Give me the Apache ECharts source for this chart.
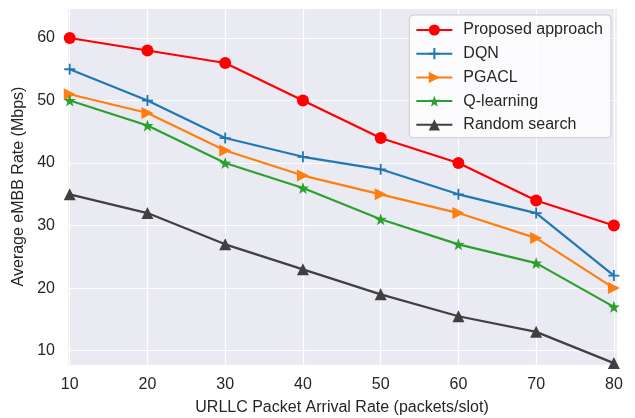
<!DOCTYPE html>
<html><head><meta charset="utf-8">
<script src="https://cdn.jsdelivr.net/npm/echarts@6/dist/echarts.min.js"></script>
<style>html,body{margin:0;padding:0;background:#fff}#c{width:635px;height:418px}</style>
</head><body><div id="c"></div>
<script>
const xValues = [10, 20, 30, 40, 50, 60, 70, 80];
const proposed = [60, 58, 56, 50, 44, 40, 34, 30];
const dqn = [55, 50, 44, 41, 39, 35, 32, 22];
const pgacl = [51, 48, 42, 38, 35, 32, 28, 20];
const qlearning = [50, 46, 40, 36, 31, 27, 24, 17];
const randomSearch = [35, 32, 27, 23, 19, 15.5, 13, 8];
const seriesNames = ['Proposed approach', 'DQN', 'PGACL', 'Q-learning', 'Random search'];

const FONT = 'Liberation Sans, Arial, sans-serif';
const TXT = '#262626';
const FS = 16;
const STAR = 'path://M0,-10L2.35,-3.24L9.51,-3.09L3.8,1.24L5.88,8.09L0,4L-5.88,8.09L-3.8,1.24L-9.51,-3.09L-2.35,-3.24Z';
const PLUS = 'path://M0,-10L0,10M-10,0L10,0';

function mk(name, data, color, symbol, size, extra) {
  return Object.assign({
    name, type: 'line', data: data.map((v, i) => [xValues[i], v]),
    symbol, symbolSize: size, showSymbol: true,
    lineStyle: { color, width: 2.2 },
    itemStyle: { color, borderColor: color, borderWidth: 0 },
    emphasis: { disabled: true }, animation: false, z: 3
  }, extra || {});
}

const chart = echarts.init(document.getElementById('c'), null, { renderer: 'canvas' });
chart.setOption({
  animation: false,
  backgroundColor: '#ffffff',
  grid: { left: 67, right: 18, top: 8, bottom: 53, show: true, backgroundColor: '#EAEAF2', borderWidth: 0, containLabel: false, outerBoundsMode: 'none' },
  xAxis: {
    type: 'value', min: 9.65, max: 80.4,
    name: 'URLLC Packet Arrival Rate (packets/slot)', nameLocation: 'middle', nameGap: 35,
    nameTextStyle: { fontFamily: FONT, fontSize: FS, color: TXT },
    axisLine: { show: false }, axisTick: { show: false },
    axisLabel: { fontFamily: FONT, fontSize: FS, color: TXT, margin: 12, showMinLabel: false, showMaxLabel: false },
    splitLine: { show: true, lineStyle: { color: '#ffffff', width: 1.2 } }
  },
  yAxis: {
    type: 'value', min: 7.7, max: 64.8,
    name: 'Average eMBB Rate (Mbps)', nameLocation: 'middle', nameGap: 38,
    nameTextStyle: { fontFamily: FONT, fontSize: FS, color: TXT },
    axisLine: { show: false }, axisTick: { show: false },
    axisLabel: { fontFamily: FONT, fontSize: FS, color: TXT, margin: 12, showMinLabel: false, showMaxLabel: false },
    splitLine: { show: true, lineStyle: { color: '#ffffff', width: 1.2 } }
  },
  legend: {
    orient: 'vertical', right: 24, top: 15, data: seriesNames,
    itemWidth: 36, itemHeight: 14, itemGap: 5.7,
    padding: [6, 8, 4, 6],
    backgroundColor: 'rgba(255,255,255,0.8)', borderColor: '#cccccc', borderWidth: 1, borderRadius: 4,
    textStyle: { fontFamily: FONT, fontSize: FS, color: TXT, lineHeight: 18, padding: [0, 0, 0, 6] }
  },
  series: [
    mk(seriesNames[0], proposed, '#ff0000', 'circle', 12),
    mk(seriesNames[1], dqn, '#1f77b4', PLUS, 11, { itemStyle: { color: 'none', borderColor: '#1f77b4', borderWidth: 1.8 } }),
    mk(seriesNames[2], pgacl, '#ff7f0e', 'triangle', 12, { symbolRotate: -90 }),
    mk(seriesNames[3], qlearning, '#2ca02c', STAR, 12),
    mk(seriesNames[4], randomSearch, '#404040', 'triangle', 12)
  ]
});
</script></body></html>
